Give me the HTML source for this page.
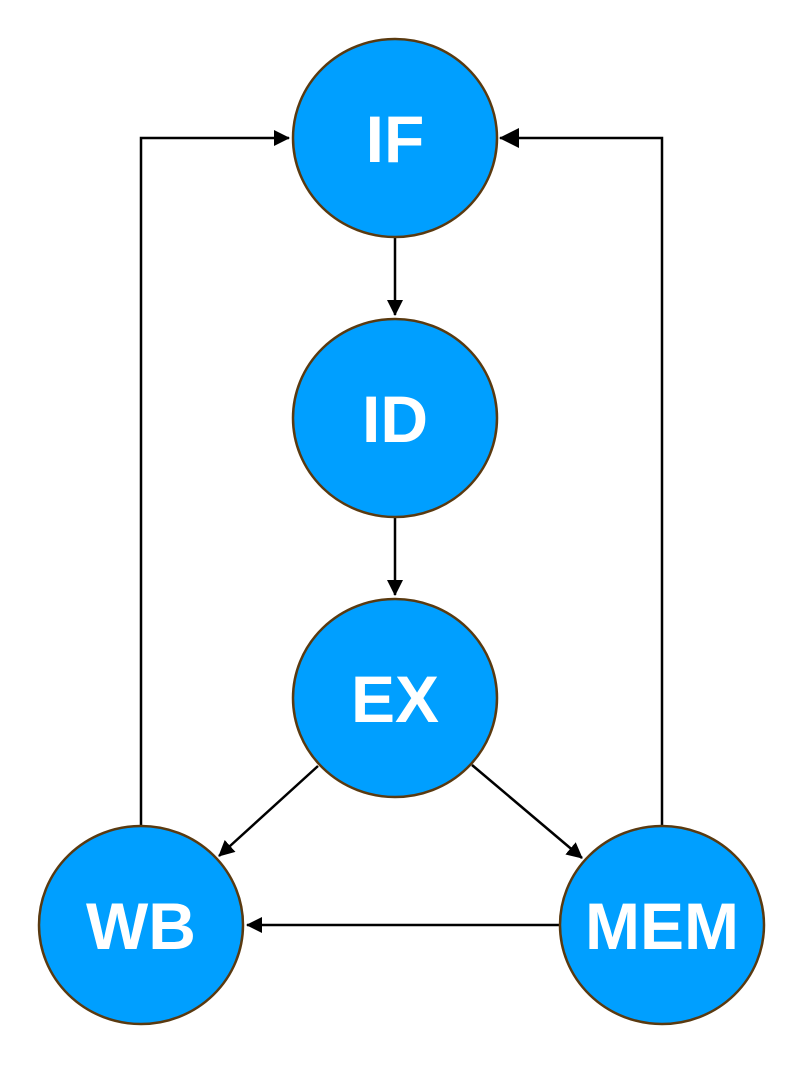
<!DOCTYPE html>
<html><head><meta charset="utf-8"><style>body{margin:0;background:#fff}</style></head>
<body>
<svg width="804" height="1064" viewBox="0 0 804 1064" xmlns="http://www.w3.org/2000/svg">
<defs>
<marker id="b" markerWidth="16" markerHeight="16" refX="15" refY="8" orient="auto" markerUnits="userSpaceOnUse" viewBox="0 0 16 16">
<path d="M0,0 L16,8 L0,16 z" fill="#000"/>
</marker>
<marker id="c" markerWidth="20" markerHeight="20" refX="19" refY="10" orient="auto" markerUnits="userSpaceOnUse" viewBox="0 0 20 20">
<path d="M0,0 L20,10 L0,20 z" fill="#000"/>
</marker>
</defs>
<g stroke="#000" stroke-width="2.5" fill="none">
<line x1="395" y1="237" x2="395" y2="315" marker-end="url(#b)"/>
<line x1="395" y1="517" x2="395" y2="595" marker-end="url(#b)"/>
<polyline points="141,826 141,138 289,138" marker-end="url(#b)"/>
<polyline points="662,826 662,138 500,138" marker-end="url(#c)"/>
<line x1="560" y1="925" x2="247" y2="925" marker-end="url(#b)"/>
<line x1="318" y1="766" x2="219" y2="856" marker-end="url(#b)"/>
<line x1="472" y1="765" x2="582" y2="858" marker-end="url(#b)"/>
</g>
<g fill="#009FFF" stroke="#5a3a10" stroke-width="2.5">
<ellipse cx="395" cy="138" rx="102" ry="99"/>
<ellipse cx="395" cy="418" rx="102" ry="99"/>
<ellipse cx="395" cy="698" rx="102" ry="99"/>
<ellipse cx="141" cy="925" rx="102" ry="99"/>
<ellipse cx="662" cy="925" rx="102" ry="99"/>
</g>
<g fill="#fff" font-family="Liberation Sans, sans-serif" font-weight="bold" font-size="66" text-anchor="middle">
<text x="395" y="162">IF</text>
<text x="395" y="442">ID</text>
<text x="395" y="722">EX</text>
<text x="141" y="949">WB</text>
<text x="662" y="949">MEM</text>
</g>
</svg>
</body></html>
